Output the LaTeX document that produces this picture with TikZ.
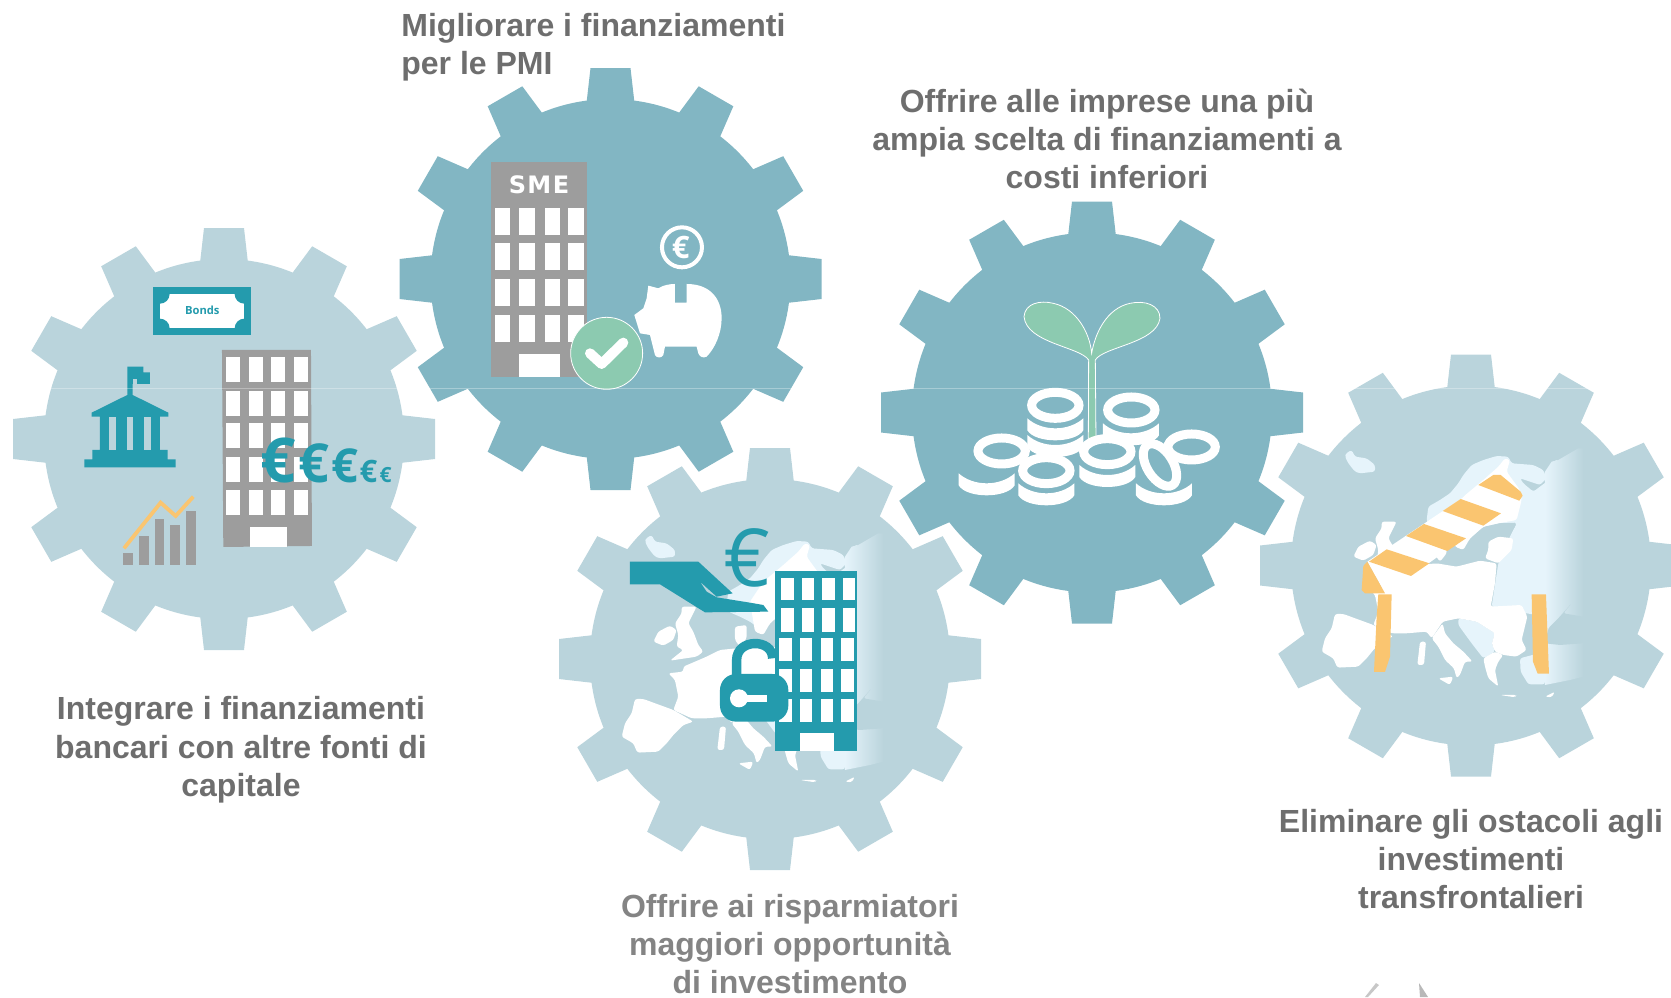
\documentclass[tikz,border=0pt]{standalone}
\usepackage{fontspec}
\setmainfont{Liberation Sans}
\newfontfamily\iconfont{Open Sans}
\newfontfamily\signfont{DejaVu Sans}
\definecolor{gearlight}{HTML}{BAD4DC}
\definecolor{geardark}{HTML}{82B6C3}
\definecolor{iconteal}{HTML}{249BAD}
\definecolor{icongrey}{HTML}{9D9D9D}
\definecolor{iconorange}{HTML}{FAC570}
\definecolor{icongreen}{HTML}{8CCAB0}
\definecolor{mappale}{HTML}{E6F4FB}
\definecolor{labelgrey}{HTML}{6E6E6E}
\tikzset{
  zoomview/.style={shift={#1},scale=0.3333},
  paneltext/.style={text=labelgrey,inner sep=0pt,align=#1,font=\fontsize{16}{19.2}\bfseries\selectfont}
}
\newcommand{\coinring}[3][0]{\draw[white,line width=4.5pt,fill=geardark,shift={(#2,#3)},rotate=#1] (0,0) ellipse [x radius=71,y radius=39];}
\newcommand{\coinband}[2]{\fill[white,shift={(#1,#2)}] (-84,0) -- (-84,36) .. controls (-60,76) and (60,76) .. (84,36) -- (84,0) .. controls (40,40) and (-40,40) .. cycle;}
\newcommand{\gearwheel}[3]{%
  \fill[#3] (#1,#2) circle [radius=180];
  \foreach \a in {0,30,...,330} \fill[#3,shift={(#1,#2)},rotate=\a] (-24,-176) -- (-20,-211) -- (20,-211) -- (24,-176) -- cycle;
}
\newcommand{\europemap}{%
  \begin{scope}[rounded corners=1.2pt]
  \fill[mappale] (288,310) -- (305,300) -- (315,320) -- (350,325) -- (375,345) -- (375,365) -- (330,370) -- (315,365) -- (295,340) -- (285,320) -- cycle;
  \fill[mappale] (530,510) -- (535,470) -- (570,450) -- (600,430) -- (625,400) -- (640,375) -- (665,345) -- (700,330) -- (740,318) -- (775,320) -- (785,340) -- (850,345) -- (880,360) -- (890,385) -- (870,405) -- (840,395) -- (810,385) -- (820,400) -- (850,425) -- (870,410) -- (890,395) -- (905,365) -- (900,340) -- (925,328) -- (890,360) -- (885,800) -- (830,790) -- (725,770) -- (745,640) -- (780,560) -- (800,520) -- (745,520) -- (700,530) -- (660,565) -- (640,590) -- (600,560) -- (570,545) -- (535,530) -- cycle;
  \fill[mappale] (810,925) -- (885,905) -- (885,1003) -- (835,1003) -- (812,965) -- cycle;
  \fill[mappale] (625,805) -- (680,815) -- (735,850) -- (725,880) -- (735,905) -- (700,925) -- (665,880) -- (625,825) -- cycle;
  \end{scope}
  \shade[left color=mappale,right color=gearlight] (885,365) -- (905,335) -- (925,330) -- (985,295) -- (1000,295) -- (1000,980) -- (960,990) -- (885,1005) -- cycle;
  \begin{scope}[rounded corners=1.2pt]
  \fill[gearlight] (885,880) -- (895,835) -- (925,805) -- (965,760) -- (940,790) -- (1000,800) -- (1000,880) -- (930,885) -- cycle;
  \fill[white] (310,620) -- (325,590) -- (360,572) -- (380,585) -- (370,615) -- (340,632) -- cycle;
  \fill[white] (395,515) -- (440,515) -- (415,565) -- (430,590) -- (445,630) -- (460,650) -- (440,665) -- (360,677) -- (400,645) -- (380,635) -- (385,600) -- (375,565) -- (395,535) -- cycle;
  \fill[white] (255,792) -- (280,792) -- (370,825) -- (430,860) -- (400,870) -- (370,900) -- (350,925) -- (325,950) -- (262,953) -- (250,925) -- (215,905) -- (225,865) -- (245,835) -- cycle;
  \fill[white] (355,715) -- (400,710) -- (400,695) -- (470,665) -- (510,645) -- (560,640) -- (620,650) -- (690,632) -- (740,640) -- (735,700) -- (722,770) -- (815,765) -- (832,800) -- (815,870) -- (830,900) -- (800,920) -- (760,915) -- (735,905) -- (725,880) -- (735,850) -- (680,815) -- (625,805) -- (578,815) -- (545,865) -- (530,845) -- (470,850) -- (425,850) -- (370,825) -- (385,785) -- (375,735) -- cycle;
  \fill[white] (545,865) -- (578,820) -- (585,850) -- (610,880) -- (640,905) -- (668,935) -- (645,935) -- (630,975) -- (620,985) -- (612,955) -- (585,930) -- (565,890) -- cycle;
  \fill[white] (700,925) -- (735,905) -- (760,915) -- (745,935) -- (735,960) -- (745,1010) -- (715,985) -- (705,950) -- cycle;
  \fill[white] (510,875) -- (528,875) -- (522,945) -- (502,945) -- cycle;
  \fill[white] (565,985) -- (610,980) -- (600,1005) -- cycle;
  \fill[white] (750,1035) -- (800,1035) -- (795,1042) -- cycle;
  \fill[white] (885,1040) -- (915,1025) -- (905,1042) -- cycle;
  \fill[white] (780,330) -- (770,365) -- (810,420) -- (815,450) -- (800,510) -- (745,520) -- (700,530) -- (660,565) -- (640,600) -- (615,590) -- (600,500) -- (640,440) -- (700,390) -- (745,350) -- (765,325) -- cycle;
  \fill[white] (555,575) -- (590,570) -- (590,610) -- (570,635) -- (555,615) -- cycle;
  \fill[gearlight] (800,518) -- (745,520) -- (700,545) -- (672,560) -- (652,600) -- (620,640) -- (690,632) -- (722,625) -- (705,590) -- (740,560) -- (790,540) -- cycle;
  \fill[white] (715,575) -- (745,560) -- (790,565) -- (785,600) -- (745,640) -- (705,625) -- (715,600) -- cycle;
  \end{scope}
}
\begin{document}
\begin{tikzpicture}[x=0.5pt,y=-0.5pt]
\useasboundingbox (0,0) rectangle (1671,997);
\clip (0,0) rectangle (1671,997);
\gearwheel{224}{439}{gearlight}\gearwheel{610.5}{279}{geardark}\gearwheel{1092}{412.5}{geardark}\gearwheel{770}{659}{gearlight}\gearwheel{1471}{565.5}{gearlight}
% banks and bonds
\begin{scope}[zoomview={(0,220)}]
  \fill[iconteal] (460,201) rectangle (753,346);
  \begin{scope}
    \clip (480,222) rectangle (733,325);
    \fill[white] (480,222) rectangle (733,325);
    \foreach \cx in {480,733} \foreach \cy in {222,325} \fill[iconteal] (\cx,\cy) circle [radius=29];
  \end{scope}
  \node (bondslabel) at (607,271) {\iconfont\bfseries\fontsize{5.6}{6}\selectfont\textcolor{iconteal}{Bonds}};
  \fill[icongrey] (666,390) -- (933,390) -- (936,978) -- (670,981) -- cycle;
  \foreach \cx in {679,746,814,881} \foreach \cy in {412,514,610,712,810} \fill[white] (\cx,\cy) rectangle +(42,75);
  \fill[white] (750,921) rectangle (860,980);
  \fill[iconteal] (382,440) -- (430,440) -- (430,457) -- (450,457) -- (450,492) -- (398,492) -- (398,525) -- (505,578) -- (505,590) -- (480,590) -- (480,690) -- (503,690) -- (503,718) -- (527,718) -- (527,742) -- (253,742) -- (253,718) -- (277,718) -- (277,690) -- (300,690) -- (300,590) -- (275,590) -- (275,578) -- (382,525) -- cycle;
  \fill[gearlight] (327,590) rectangle (347,690);\fill[gearlight] (380,590) rectangle (400,690);\fill[gearlight] (432,590) rectangle (452,690);
  \fill[gearlight] (398,477) rectangle (412,492);
  \fill[icongrey] (370,1000) rectangle (398,1035);\fill[icongrey] (417,947) rectangle (446,1035);\fill[icongrey] (464,897) rectangle (493,1035);\fill[icongrey] (511,915) rectangle (540,1035);\fill[icongrey] (558,873) rectangle (587,1035);
  \draw[iconorange,line width=1.9pt] (372,985) -- (482,848) -- (527,888) -- (580,830);
  \node[anchor=base west,inner sep=0pt,text=iconteal] (eurobig) at (780,787) {\iconfont\bfseries\fontsize{31}{31}\selectfont €};
  \node[anchor=base west,inner sep=0pt,text=iconteal] (euroa) at (895,787) {\iconfont\bfseries\fontsize{27}{27}\selectfont €};
  \node[anchor=base west,inner sep=0pt,text=iconteal] (eurob) at (993,787) {\iconfont\bfseries\fontsize{23.5}{24}\selectfont €};
  \node[anchor=base west,inner sep=0pt,text=iconteal] (euroc) at (1078,787) {\iconfont\bfseries\fontsize{15.5}{16}\selectfont €};
  \node[anchor=base west,inner sep=0pt,text=iconteal] (eurod) at (1138,787) {\iconfont\bfseries\fontsize{10.5}{11}\selectfont €};
\end{scope}
% sme with piggy bank
\begin{scope}[zoomview={(390,60)}]
  \fill[icongrey] (303,306) rectangle (592,950);
  \node (smelabel) at (447,375) {\signfont\bfseries\fontsize{12}{12}\selectfont\addfontfeature{LetterSpace=6}\textcolor{white}{SME}};
  \foreach \cx/\cw in {316/45,388/46,464/45,535/46} \foreach \cy in {443,548,657,765} \fill[white] (\cx,\cy) rectangle +(\cw,81);
  \fill[white] (388,883) rectangle (509,950);
  \filldraw[fill=icongreen,draw=white,line width=0.4pt] (650,880) circle [radius=108];
  \draw[white,line width=5pt,line cap=round,line join=round] (600,880) -- (635,912) -- (700,848);
  \draw[white,line width=2pt] (876,562) circle [radius=60];
  \node[text=white] (coineuro) at (872,562) {\iconfont\bfseries\fontsize{15.5}{16}\selectfont €};
  \fill[white] (733,765) -- (760,745) -- (770,715) -- (775,677) -- (805,685) .. controls (820,675) and (840,672) .. (855,672) -- (855,728) -- (890,728) -- (890,672) .. controls (960,672) and (995,715) .. (995,775) .. controls (995,820) and (975,865) .. (950,890) .. controls (940,895) and (930,892) .. (925,880) -- (920,860) -- (825,860) -- (820,885) .. controls (815,895) and (800,895) .. (795,885) -- (780,825) -- (750,820) -- cycle;
\end{scope}
% coins with sprout
\begin{scope}[zoomview={(880,200)}]
  \filldraw[fill=icongreen,draw=white,line width=0.4pt] (625,715) -- (626,480) .. controls (600,440) and (440,430) .. (432,350) .. controls (435,310) and (480,300) .. (520,310) .. controls (590,325) and (630,400) .. (635,460) .. controls (645,400) and (680,325) .. (750,310) .. controls (795,300) and (840,315) .. (840,355) .. controls (830,430) and (670,440) .. (646,480) -- (648,715) -- cycle;
  \coinband{526}{705}\coinband{526}{655}\coinring{526}{616}
  \coinband{753}{670}\coinring{754}{630}
  \coinband{320}{820}\coinring{365}{753}
  \coinring{935}{741}
  \coinband{852}{850}
  \coinband{682}{795}\coinring{682}{755}
  \coinband{499}{850}\coinring{499}{812}
  \coinring[-58]{840}{795}
\end{scope}
% savers and investment
\begin{scope}[zoomview={(550,435)}]
  \europemap
\end{scope}
\begin{scope}[zoomview={(550,450)}]
  \node[text=iconteal] (handeuro) at (592,325) {\iconfont\fontsize{40}{40}\selectfont €};
  \fill[iconteal] (676,363) rectangle (920,903);
  \foreach \cx in {693,755,817,878} \foreach \cy/\ch in {383/67,473/72} \fill[white] (\cx,\cy) rectangle +(38,\ch);
  \foreach \cx in {688,749,812,873} \foreach \cy in {565,657,747} \fill[white] (\cx,\cy) rectangle +(38,68);
  \fill[white] (750,848) rectangle (852,903);
  \fill[iconteal] (240,335) -- (445,335) -- (548,430) -- (500,440) -- (450,395) -- (470,425) -- (500,442) -- (600,458) -- (640,465) -- (655,485) -- (465,487) -- (330,403) -- (240,403) -- cycle;
  \fill[white] (560,672) -- (560,630) .. controls (560,570) and (670,570) .. (670,630) -- (670,672) -- cycle;
  \draw[iconteal,line width=4.7pt] (560,680) -- (560,630) .. controls (560,565) and (668,565) .. (668,625);
  \fill[iconteal,rounded corners=8pt] (510,672) rectangle (715,815);
  \fill[white] (567,745) circle [radius=27];\fill[white] (580,735) rectangle (650,757);
\end{scope}
% barrier on the map
\begin{scope}[zoomview={(1250,350)}]
  \europemap
  \fill[white] (352,635) -- (740,375) -- (818,437) -- (483,678) -- (405,730) -- cycle;
  \fill[iconorange] (352,635) -- (340,648) -- (335,720) -- (345,730) -- (405,730) -- cycle;
  \fill[iconorange] (385,733) -- (425,733) -- (420,920) -- (405,966) -- (372,966) -- (380,800) -- cycle;
  \fill[iconorange] (845,733) -- (888,733) -- (897,971) -- (863,971) -- (849,935) -- cycle;
  \fill[iconorange] (685,405) -- (730,375) -- (752,375) -- (812,425) -- (818,437) -- (808,452) -- cycle;
  \fill[iconorange] (578,483) -- (632,447) -- (753,490) -- (700,527) -- cycle;
  \fill[iconorange] (468,558) -- (522,522) -- (648,565) -- (592,603) -- cycle;
  \fill[iconorange] (357,635) -- (410,598) -- (538,640) -- (483,678) -- cycle;
\end{scope}
\draw[white,opacity=.3,line width=.5pt] (0,388) -- (1671,388);
\fill[black!22] (1376,983) -- (1379,985) -- (1368,997) -- (1365,997) -- cycle;
\fill[black!28] (1419,983) -- (1428,997) -- (1420,997) -- cycle;
\node[paneltext=left,anchor=north west] (smetext) at (401,13) {Migliorare i finanziamenti\\per le PMI};
\node[paneltext=center] (costtext) at (1107,139) {Offrire alle imprese una più\\ampia scelta di finanziamenti a\\costi inferiori};
\node[paneltext=center] (banktext) at (241,750) {Integrare i finanziamenti\\bancari con altre fonti di\\capitale};
\node[paneltext=center,text=labelgrey!85] (savertext) at (790,944) {Offrire ai risparmiatori\\maggiori opportunità\\di investimento};
\node[paneltext=center] (bordertext) at (1471,859) {Eliminare gli ostacoli agli\\investimenti\\transfrontalieri};
\end{tikzpicture}
\end{document}
